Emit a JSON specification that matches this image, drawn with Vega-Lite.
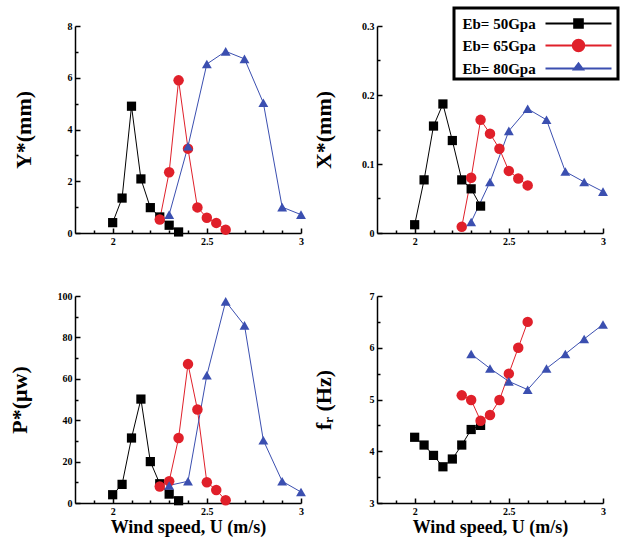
{
  "$schema": "https://vega.github.io/schema/vega-lite/v6.json",
  "background": "white",
  "padding": {"left": 8, "top": 6, "right": 2, "bottom": 2},
  "datasets": {
    "d": [
      {"p": "Y", "s": "Eb = 50Gpa", "u": 2.0, "v": 0.4},
      {"p": "Y", "s": "Eb = 50Gpa", "u": 2.05, "v": 1.35},
      {"p": "Y", "s": "Eb = 50Gpa", "u": 2.1, "v": 4.9},
      {"p": "Y", "s": "Eb = 50Gpa", "u": 2.15, "v": 2.09},
      {"p": "Y", "s": "Eb = 50Gpa", "u": 2.2, "v": 0.98},
      {"p": "Y", "s": "Eb = 50Gpa", "u": 2.25, "v": 0.62},
      {"p": "Y", "s": "Eb = 50Gpa", "u": 2.3, "v": 0.3},
      {"p": "Y", "s": "Eb = 50Gpa", "u": 2.35, "v": 0.04},
      {"p": "Y", "s": "Eb = 65Gpa", "u": 2.25, "v": 0.52},
      {"p": "Y", "s": "Eb = 65Gpa", "u": 2.3, "v": 2.35},
      {"p": "Y", "s": "Eb = 65Gpa", "u": 2.35, "v": 5.9},
      {"p": "Y", "s": "Eb = 65Gpa", "u": 2.4, "v": 3.26},
      {"p": "Y", "s": "Eb = 65Gpa", "u": 2.45, "v": 0.99},
      {"p": "Y", "s": "Eb = 65Gpa", "u": 2.5, "v": 0.59},
      {"p": "Y", "s": "Eb = 65Gpa", "u": 2.55, "v": 0.39},
      {"p": "Y", "s": "Eb = 65Gpa", "u": 2.6, "v": 0.13},
      {"p": "Y", "s": "Eb = 80Gpa", "u": 2.3, "v": 0.71},
      {"p": "Y", "s": "Eb = 80Gpa", "u": 2.4, "v": 3.35},
      {"p": "Y", "s": "Eb = 80Gpa", "u": 2.5, "v": 6.53},
      {"p": "Y", "s": "Eb = 80Gpa", "u": 2.6, "v": 7.02},
      {"p": "Y", "s": "Eb = 80Gpa", "u": 2.7, "v": 6.73},
      {"p": "Y", "s": "Eb = 80Gpa", "u": 2.8, "v": 5.03},
      {"p": "Y", "s": "Eb = 80Gpa", "u": 2.9, "v": 1.0},
      {"p": "Y", "s": "Eb = 80Gpa", "u": 3.0, "v": 0.71},

      {"p": "X", "s": "Eb = 50Gpa", "u": 2.0, "v": 0.012},
      {"p": "X", "s": "Eb = 50Gpa", "u": 2.05, "v": 0.077},
      {"p": "X", "s": "Eb = 50Gpa", "u": 2.1, "v": 0.155},
      {"p": "X", "s": "Eb = 50Gpa", "u": 2.15, "v": 0.187},
      {"p": "X", "s": "Eb = 50Gpa", "u": 2.2, "v": 0.134},
      {"p": "X", "s": "Eb = 50Gpa", "u": 2.25, "v": 0.077},
      {"p": "X", "s": "Eb = 50Gpa", "u": 2.3, "v": 0.064},
      {"p": "X", "s": "Eb = 50Gpa", "u": 2.35, "v": 0.039},
      {"p": "X", "s": "Eb = 65Gpa", "u": 2.25, "v": 0.009},
      {"p": "X", "s": "Eb = 65Gpa", "u": 2.3, "v": 0.080},
      {"p": "X", "s": "Eb = 65Gpa", "u": 2.35, "v": 0.164},
      {"p": "X", "s": "Eb = 65Gpa", "u": 2.4, "v": 0.144},
      {"p": "X", "s": "Eb = 65Gpa", "u": 2.45, "v": 0.122},
      {"p": "X", "s": "Eb = 65Gpa", "u": 2.5, "v": 0.090},
      {"p": "X", "s": "Eb = 65Gpa", "u": 2.55, "v": 0.079},
      {"p": "X", "s": "Eb = 65Gpa", "u": 2.6, "v": 0.069},
      {"p": "X", "s": "Eb = 80Gpa", "u": 2.3, "v": 0.016},
      {"p": "X", "s": "Eb = 80Gpa", "u": 2.4, "v": 0.074},
      {"p": "X", "s": "Eb = 80Gpa", "u": 2.5, "v": 0.148},
      {"p": "X", "s": "Eb = 80Gpa", "u": 2.6, "v": 0.180},
      {"p": "X", "s": "Eb = 80Gpa", "u": 2.7, "v": 0.164},
      {"p": "X", "s": "Eb = 80Gpa", "u": 2.8, "v": 0.089},
      {"p": "X", "s": "Eb = 80Gpa", "u": 2.9, "v": 0.074},
      {"p": "X", "s": "Eb = 80Gpa", "u": 3.0, "v": 0.060},

      {"p": "P", "s": "Eb = 50Gpa", "u": 2.0, "v": 4.0},
      {"p": "P", "s": "Eb = 50Gpa", "u": 2.05, "v": 9.0},
      {"p": "P", "s": "Eb = 50Gpa", "u": 2.1, "v": 31.4},
      {"p": "P", "s": "Eb = 50Gpa", "u": 2.15, "v": 50.2},
      {"p": "P", "s": "Eb = 50Gpa", "u": 2.2, "v": 20.0},
      {"p": "P", "s": "Eb = 50Gpa", "u": 2.25, "v": 9.3},
      {"p": "P", "s": "Eb = 50Gpa", "u": 2.3, "v": 4.3},
      {"p": "P", "s": "Eb = 50Gpa", "u": 2.35, "v": 1.1},
      {"p": "P", "s": "Eb = 65Gpa", "u": 2.25, "v": 8.0},
      {"p": "P", "s": "Eb = 65Gpa", "u": 2.3, "v": 10.5},
      {"p": "P", "s": "Eb = 65Gpa", "u": 2.35, "v": 31.4},
      {"p": "P", "s": "Eb = 65Gpa", "u": 2.4, "v": 67.1},
      {"p": "P", "s": "Eb = 65Gpa", "u": 2.45, "v": 45.2},
      {"p": "P", "s": "Eb = 65Gpa", "u": 2.5, "v": 10.0},
      {"p": "P", "s": "Eb = 65Gpa", "u": 2.55, "v": 6.3},
      {"p": "P", "s": "Eb = 65Gpa", "u": 2.6, "v": 1.3},
      {"p": "P", "s": "Eb = 80Gpa", "u": 2.3, "v": 8.5},
      {"p": "P", "s": "Eb = 80Gpa", "u": 2.4, "v": 10.5},
      {"p": "P", "s": "Eb = 80Gpa", "u": 2.5, "v": 61.7},
      {"p": "P", "s": "Eb = 80Gpa", "u": 2.6, "v": 97.4},
      {"p": "P", "s": "Eb = 80Gpa", "u": 2.7, "v": 85.8},
      {"p": "P", "s": "Eb = 80Gpa", "u": 2.8, "v": 30.3},
      {"p": "P", "s": "Eb = 80Gpa", "u": 2.9, "v": 10.5},
      {"p": "P", "s": "Eb = 80Gpa", "u": 3.0, "v": 5.3},

      {"p": "F", "s": "Eb = 50Gpa", "u": 2.0, "v": 4.27},
      {"p": "F", "s": "Eb = 50Gpa", "u": 2.05, "v": 4.12},
      {"p": "F", "s": "Eb = 50Gpa", "u": 2.1, "v": 3.92},
      {"p": "F", "s": "Eb = 50Gpa", "u": 2.15, "v": 3.70},
      {"p": "F", "s": "Eb = 50Gpa", "u": 2.2, "v": 3.85},
      {"p": "F", "s": "Eb = 50Gpa", "u": 2.25, "v": 4.12},
      {"p": "F", "s": "Eb = 50Gpa", "u": 2.3, "v": 4.42},
      {"p": "F", "s": "Eb = 50Gpa", "u": 2.35, "v": 4.50},
      {"p": "F", "s": "Eb = 65Gpa", "u": 2.25, "v": 5.08},
      {"p": "F", "s": "Eb = 65Gpa", "u": 2.3, "v": 4.99},
      {"p": "F", "s": "Eb = 65Gpa", "u": 2.35, "v": 4.59},
      {"p": "F", "s": "Eb = 65Gpa", "u": 2.4, "v": 4.70},
      {"p": "F", "s": "Eb = 65Gpa", "u": 2.45, "v": 4.99},
      {"p": "F", "s": "Eb = 65Gpa", "u": 2.5, "v": 5.50},
      {"p": "F", "s": "Eb = 65Gpa", "u": 2.55, "v": 6.00},
      {"p": "F", "s": "Eb = 65Gpa", "u": 2.6, "v": 6.50},
      {"p": "F", "s": "Eb = 80Gpa", "u": 2.3, "v": 5.88},
      {"p": "F", "s": "Eb = 80Gpa", "u": 2.4, "v": 5.60},
      {"p": "F", "s": "Eb = 80Gpa", "u": 2.5, "v": 5.35},
      {"p": "F", "s": "Eb = 80Gpa", "u": 2.6, "v": 5.19},
      {"p": "F", "s": "Eb = 80Gpa", "u": 2.7, "v": 5.60},
      {"p": "F", "s": "Eb = 80Gpa", "u": 2.8, "v": 5.88},
      {"p": "F", "s": "Eb = 80Gpa", "u": 2.9, "v": 6.17},
      {"p": "F", "s": "Eb = 80Gpa", "u": 3.0, "v": 6.45}
    ]
  },
  "config": {
    "view": {"stroke": null},
    "axis": {
      "grid": false,
      "ticks": true,
      "domainColor": "black",
      "domainWidth": 1.5,
      "tickColor": "black",
      "tickWidth": 1.5,
      "tickOpacity": 1,
      "labelFont": "Liberation Serif",
      "labelFontWeight": "bold",
      "labelFontSize": 10,
      "labelColor": "black",
      "labelPadding": 8,
      "titleFont": "Liberation Serif",
      "titleFontWeight": "bold",
      "titleColor": "black",
      "labelFlush": false,
      "labelOverlap": false
    }
  },
  "columns": 2,
  "bounds": "flush",
  "spacing": {"row": 63, "column": 76},
  "concat": [
    {
      "width": 226, "height": 207,
      "data": {"name": "d"},
      "transform": [{"filter": "datum.p == 'Y'"}],
      "encoding": {
        "x": {"field": "u", "type": "quantitative", "scale": {"domain": [1.8, 3]},
          "axis": {"title": null, "values": [1.9,2,2.1,2.2,2.3,2.4,2.5,2.6,2.7,2.8,2.9,3],
            "tickSize": {"condition": {"test": "abs(datum.value*2 - round(datum.value*2)) < 0.000001", "value": -5}, "value": -3},
            "labelExpr": "abs(datum.value*2 - round(datum.value*2)) < 0.000001 ? format(datum.value, '~g') : ''"}},
        "y": {"field": "v", "type": "quantitative", "scale": {"domain": [0, 8]},
          "axis": {"title": "Y*(mm)", "titleFontSize": 22, "titlePadding": 32, "values": [0,1,2,3,4,5,6,7,8],
            "tickSize": {"condition": {"test": "datum.value % 2 == 0", "value": -5}, "value": -3},
            "labelExpr": "datum.value % 2 == 0 ? format(datum.value, '~g') : ''"}}
      },
      "layer": [
        {"mark": {"type": "line", "strokeWidth": 1},
          "encoding": {"color": {"field": "s", "type": "nominal",
            "scale": {"domain": ["Eb = 50Gpa", "Eb = 65Gpa", "Eb = 80Gpa"], "range": ["#000000", "#e0202a", "#3b4fb0"]},
            "legend": {
                "orient": "none", "legendX": 379, "legendY": -18, "title": null,
                "labelFont": "Liberation Serif", "labelFontSize": 15, "labelFontWeight": "bold", "labelColor": "black",
                "labelExpr": "replace(datum.label, 'Eb =', 'Eb=')",
                "symbolSize": 576, "symbolOffset": 109, "labelOffset": -129, "padding": 2.5, "rowPadding": -3.5,
                "symbolStrokeWidth": 2,
                "strokeColor": "black",
                "encode": {
                  "legend": {"update": {"strokeWidth": {"value": 3}}},
                  "symbols": {"update": {
                    "shape": {"signal": "datum.value == 'Eb = 50Gpa' ? 'M-2.75,0H2.75M-0.36,-0.36H0.36V0.36H-0.36Z' : datum.value == 'Eb = 65Gpa' ? 'M-2.75,0H2.75M0.48,0A0.48,0.48 0 1,1 -0.48,0A0.48,0.48 0 1,1 0.48,0Z' : 'M-2.75,0H2.75M-0.38,0.08L0,-0.42L0.38,0.08Z'"},
                    "opacity": {"value": 1}
                  }}
                }
              }}}},
        {"mark": {"type": "point", "filled": true, "opacity": 1},
          "encoding": {
            "color": {"field": "s", "type": "nominal"},
            "shape": {"field": "s", "type": "nominal", "legend": null,
              "scale": {"domain": ["Eb = 80Gpa", "Eb = 65Gpa", "Eb = 50Gpa"], "range": ["triangle-up", "circle", "square"]}},
            "size": {"field": "s", "type": "ordinal", "legend": null,
              "scale": {"domain": ["Eb = 65Gpa", "Eb = 80Gpa", "Eb = 50Gpa"], "range": [110, 85, 60]}}
          }}
      ]
    },
    {
      "width": 226, "height": 207,
      "data": {"name": "d"},
      "transform": [{"filter": "datum.p == 'X'"}],
      "encoding": {
        "x": {"field": "u", "type": "quantitative", "scale": {"domain": [1.8, 3]},
          "axis": {"title": null, "values": [1.9,2,2.1,2.2,2.3,2.4,2.5,2.6,2.7,2.8,2.9,3],
            "tickSize": {"condition": {"test": "abs(datum.value*2 - round(datum.value*2)) < 0.000001", "value": -5}, "value": -3},
            "labelExpr": "abs(datum.value*2 - round(datum.value*2)) < 0.000001 ? format(datum.value, '~g') : ''"}},
        "y": {"field": "v", "type": "quantitative", "scale": {"domain": [0, 0.3]},
          "axis": {"title": "X*(mm)", "titleFontSize": 22, "titlePadding": 26, "values": [0,0.05,0.1,0.15,0.2,0.25,0.3],
            "tickSize": {"condition": {"test": "abs(datum.value*10 - round(datum.value*10)) < 0.000001", "value": -5}, "value": -3},
            "labelExpr": "abs(datum.value*10 - round(datum.value*10)) < 0.000001 ? format(datum.value, '~g') : ''"}}
      },
      "layer": [
        {"mark": {"type": "line", "strokeWidth": 1},
          "encoding": {"color": {"field": "s", "type": "nominal"}}},
        {"mark": {"type": "point", "filled": true, "opacity": 1},
          "encoding": {
            "color": {"field": "s", "type": "nominal"},
            "shape": {"field": "s", "type": "nominal", "legend": null},
            "size": {"field": "s", "type": "ordinal", "legend": null}
          }}
      ]
    },
    {
      "width": 226, "height": 207,
      "data": {"name": "d"},
      "transform": [{"filter": "datum.p == 'P'"}],
      "encoding": {
        "x": {"field": "u", "type": "quantitative", "scale": {"domain": [1.8, 3]},
          "axis": {"title": "Wind speed, U (m/s)", "titleFontSize": 18, "titlePadding": 0, "values": [1.9,2,2.1,2.2,2.3,2.4,2.5,2.6,2.7,2.8,2.9,3],
            "tickSize": {"condition": {"test": "abs(datum.value*2 - round(datum.value*2)) < 0.000001", "value": -5}, "value": -3},
            "labelExpr": "abs(datum.value*2 - round(datum.value*2)) < 0.000001 ? format(datum.value, '~g') : ''"}},
        "y": {"field": "v", "type": "quantitative", "scale": {"domain": [0, 100]},
          "axis": {"title": "P*(μw)", "titleFontSize": 22, "titlePadding": 26, "values": [0,10,20,30,40,50,60,70,80,90,100],
            "tickSize": {"condition": {"test": "datum.value % 20 == 0", "value": -5}, "value": -3},
            "labelExpr": "datum.value % 20 == 0 ? format(datum.value, '~g') : ''"}}
      },
      "layer": [
        {"mark": {"type": "line", "strokeWidth": 1},
          "encoding": {"color": {"field": "s", "type": "nominal"}}},
        {"mark": {"type": "point", "filled": true, "opacity": 1},
          "encoding": {
            "color": {"field": "s", "type": "nominal"},
            "shape": {"field": "s", "type": "nominal", "legend": null},
            "size": {"field": "s", "type": "ordinal", "legend": null}
          }}
      ]
    },
    {
      "width": 226, "height": 207,
      "data": {"name": "d"},
      "transform": [{"filter": "datum.p == 'F'"}],
      "encoding": {
        "x": {"field": "u", "type": "quantitative", "scale": {"domain": [1.8, 3]},
          "axis": {"title": "Wind speed, U (m/s)", "titleFontSize": 18, "titlePadding": 0, "values": [1.9,2,2.1,2.2,2.3,2.4,2.5,2.6,2.7,2.8,2.9,3],
            "tickSize": {"condition": {"test": "abs(datum.value*2 - round(datum.value*2)) < 0.000001", "value": -5}, "value": -3},
            "labelExpr": "abs(datum.value*2 - round(datum.value*2)) < 0.000001 ? format(datum.value, '~g') : ''"}},
        "y": {"field": "v", "type": "quantitative", "scale": {"domain": [3, 7]},
          "axis": {"title": "fᵣ (Hz)", "titleFontSize": 22, "titlePadding": 34, "values": [3,3.5,4,4.5,5,5.5,6,6.5,7],
            "tickSize": {"condition": {"test": "datum.value % 1 == 0", "value": -5}, "value": -3},
            "labelExpr": "datum.value % 1 == 0 ? format(datum.value, '~g') : ''"}}
      },
      "layer": [
        {"mark": {"type": "line", "strokeWidth": 1},
          "encoding": {"color": {"field": "s", "type": "nominal"}}},
        {"mark": {"type": "point", "filled": true, "opacity": 1},
          "encoding": {
            "color": {"field": "s", "type": "nominal"},
            "shape": {"field": "s", "type": "nominal", "legend": null},
            "size": {"field": "s", "type": "ordinal", "legend": null}
          }}
      ]
    }
  ]
}
